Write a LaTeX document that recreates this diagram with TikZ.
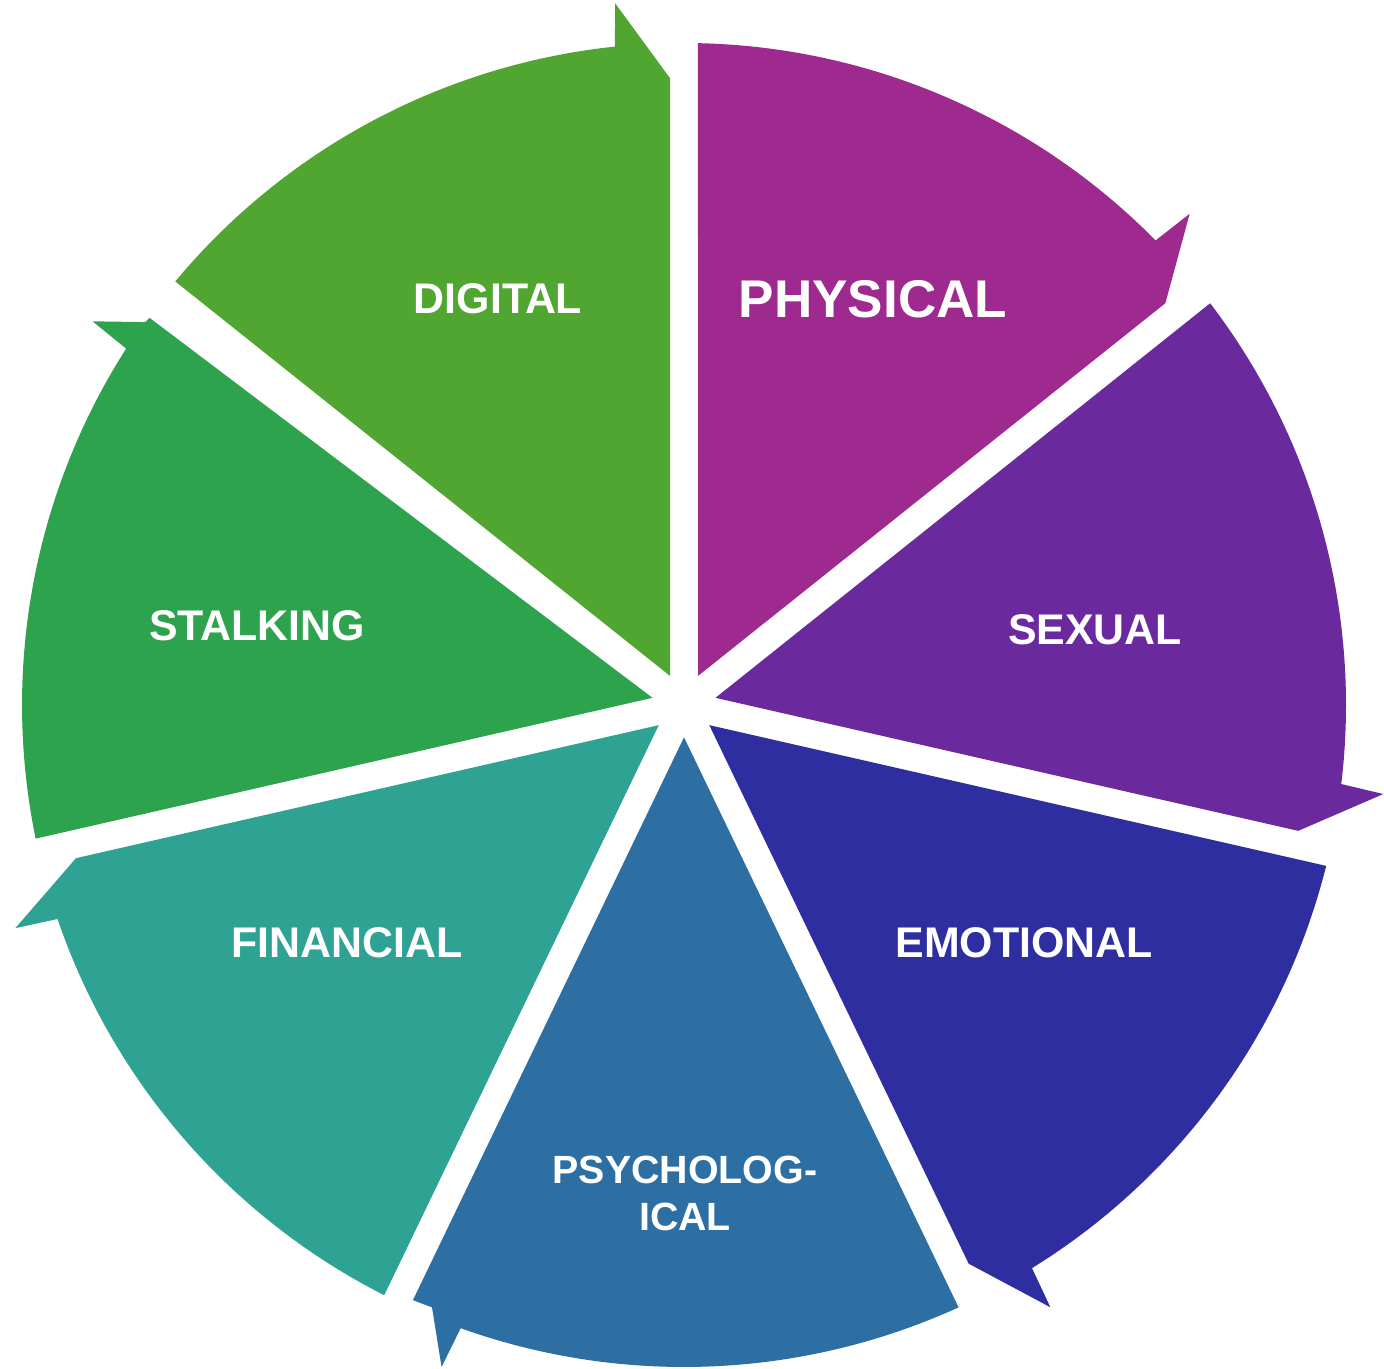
\documentclass[tikz,border=0pt]{standalone}
\usepackage{fontspec}
\setmainfont{Liberation Sans}
\usepackage{tikz}

\definecolor{physical}{HTML}{9E2A8F}
\definecolor{sexual}{HTML}{6A2A9E}
\definecolor{emotional}{HTML}{2E2EA0}
\definecolor{psycho}{HTML}{2D6FA3}
\definecolor{financial}{HTML}{2EA393}
\definecolor{stalking}{HTML}{2EA34E}
\definecolor{digital}{HTML}{50A630}

% start angle, end angle, colour, arrow tip
\newcommand{\ringpart}[4]{%
  \fill[#3] ({(#1+#2)/2}:0.323) -- ({#1-1.21}:6.62)
    arc[start angle={#1-1.21}, end angle={#2+6}, radius=6.62]
    -- ({#2+5.6}:7.05) -- #4 -- cycle;}

\tikzset{
  lbl/.style={text=white, font=\bfseries\fontsize{12.2}{14}\selectfont, align=center},
  biglbl/.style={lbl, font=\bfseries\fontsize{15.1}{17}\selectfont}
}

\begin{document}
\begin{tikzpicture}
  \useasboundingbox (0,0) rectangle (13.84,13.68);
  \begin{scope}[shift={(6.84,6.63)}]
    \ringpart{90}{38.571}{physical}{({39.85}:6.27)}
    \ringpart{38.571}{-12.857}{sexual}{({-11.58}:6.27)}
    \ringpart{-12.857}{-64.286}{emotional}{({-63.0}:6.27)}
    \ringpart{-64.286}{-115.714}{psycho}{({-112.7}:6.53) -- ({-114.49}:6.54)}
    \ringpart{-115.714}{-167.143}{financial}{({-165.86}:6.27)}
    \ringpart{-167.143}{-218.571}{stalking}{({-215.4}:6.61) -- ({-215.92}:6.60)}
    \ringpart{-218.571}{-270}{digital}{({-268.72}:6.27)}
  \end{scope}
  \node[biglbl] (phys)  at (8.73,10.69) {PHYSICAL};
  \node[lbl]    (sex)   at (10.95,7.38) {SEXUAL};
  \node[lbl]    (emo)   at (10.24,4.25) {EMOTIONAL};
  \node[lbl, font=\bfseries\fontsize{11.2}{13.4}\selectfont]
                (psy)   at (6.85,1.75)  {PSYCHOLOG-\\ICAL};
  \node[lbl]    (fin)   at (3.47,4.25)  {FINANCIAL};
  \node[lbl]    (stalk) at (2.57,7.42)  {STALKING};
  \node[lbl]    (dig)   at (4.98,10.69) {DIGITAL};
\end{tikzpicture}
\end{document}
